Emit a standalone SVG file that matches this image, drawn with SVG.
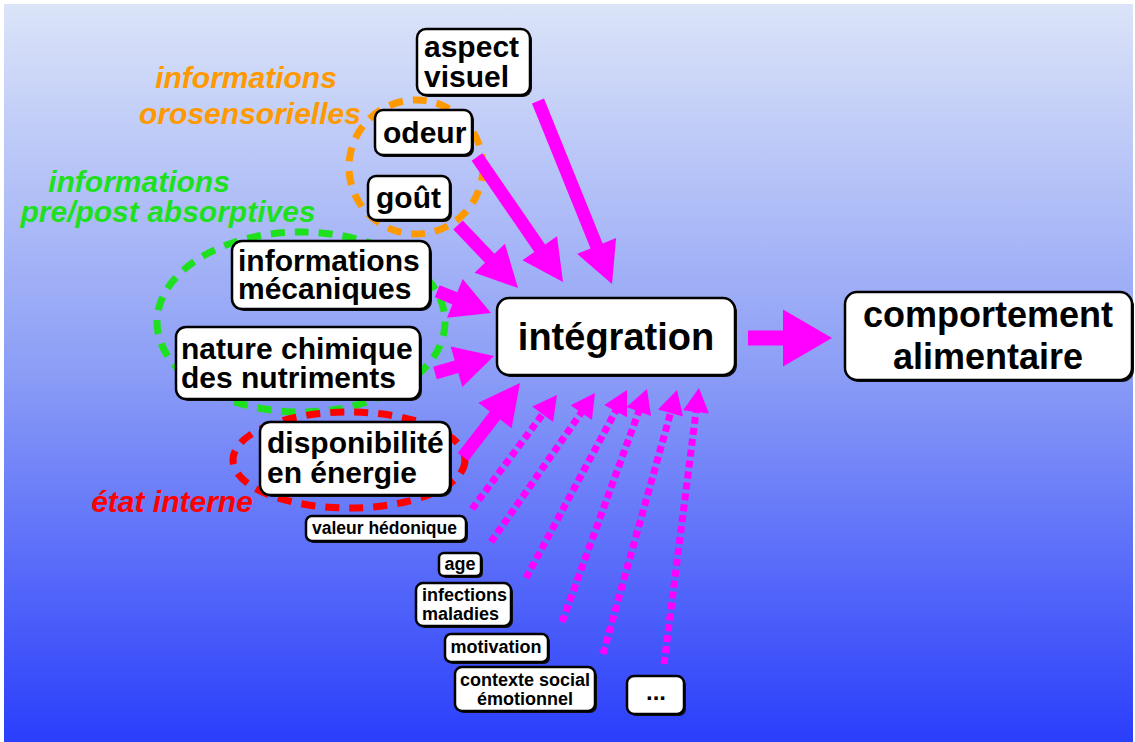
<svg xmlns="http://www.w3.org/2000/svg" width="1135" height="742" viewBox="0 0 1135 742">
<defs>
<linearGradient id="bg" x1="0" y1="0" x2="0" y2="1">
<stop offset="0" stop-color="#dbe4f8"/>
<stop offset="0.5" stop-color="#8b9df6"/>
<stop offset="1" stop-color="#2a3efc"/>
</linearGradient>
<style>
.box{fill:#fff;stroke:#000;stroke-width:2.5}
.sh{fill:#111}
.t{font-family:"Liberation Sans",Arial,sans-serif;font-weight:bold;fill:#000}
.lab{font-family:"Liberation Sans",Arial,sans-serif;font-weight:bold;font-style:italic;font-size:30px;text-anchor:middle}
.ar{fill:#ff00ff}
.dl{stroke:#ff00ff;stroke-width:7;stroke-dasharray:7 4;fill:none}
.el{fill:none;stroke-width:7;stroke-dasharray:14 10}
</style>
</defs>
<rect x="4" y="4" width="1129" height="738" fill="url(#bg)"/>

<g id="groups">
<ellipse class="el" cx="416" cy="167" rx="67" ry="67" stroke="#ff9900"/>
<ellipse class="el" cx="301" cy="322" rx="144" ry="90" stroke="#1ee01e"/>
<ellipse class="el" cx="349" cy="460" rx="116" ry="48" stroke="#ff0000"/>
<text class="lab" fill="#ff9900" x="246" y="88">informations</text>
<text class="lab" fill="#ff9900" x="250" y="124">orosensorielles</text>
<text class="lab" fill="#1ee01e" x="139" y="192">informations</text>
<text class="lab" fill="#1ee01e" x="168" y="222">pre/post absorptives</text>
<text class="lab" fill="#ff0000" x="172" y="512">état interne</text>
</g>

<g id="connectors">
<g transform="translate(612,284) rotate(67.98)"><polygon class="ar" points="-197.4,-6.5 -41,-6.5 -41,-21 0,0 -41,21 -41,6.5 -197.4,6.5"/></g>
<g transform="translate(563,282) rotate(55.47)"><polygon class="ar" points="-151.7,-6.5 -41,-6.5 -41,-21 0,0 -41,21 -41,6.5 -151.7,6.5"/></g>
<g transform="translate(518,288) rotate(46.4)"><polygon class="ar" points="-87,-6.5 -41,-6.5 -41,-21 0,0 -41,21 -41,6.5 -87,6.5"/></g>
<g transform="translate(491,313) rotate(22)"><polygon class="ar" points="-58,-6.5 -39,-6.5 -39,-21 0,0 -39,21 -39,6.5 -58,6.5"/></g>
<g transform="translate(494,356) rotate(-16.07)"><polygon class="ar" points="-61.4,-6.5 -39,-6.5 -39,-21 0,0 -39,21 -39,6.5 -61.4,6.5"/></g>
<g transform="translate(520,383) rotate(-52.4)"><polygon class="ar" points="-93.4,-6.5 -41,-6.5 -41,-21 0,0 -41,21 -41,6.5 -93.4,6.5"/></g>
<g transform="translate(832,338)"><polygon class="ar" points="-84,-7.5 -49,-7.5 -49,-28.5 0,0 -49,28.5 -49,7.5 -84,7.5"/></g>

<g transform="translate(557,395) rotate(-53.3)"><line class="dl" x1="-142.2" y1="0" x2="-22" y2="0"/><polygon class="ar" points="0,0 -24,-13 -24,13"/></g>
<g transform="translate(595,393) rotate(-55.1)"><line class="dl" x1="-181.7" y1="0" x2="-22" y2="0"/><polygon class="ar" points="0,0 -24,-13 -24,13"/></g>
<g transform="translate(627,390) rotate(-61.75)"><line class="dl" x1="-213.4" y1="0" x2="-22" y2="0"/><polygon class="ar" points="0,0 -24,-13 -24,13"/></g>
<g transform="translate(647,389) rotate(-69.96)"><line class="dl" x1="-248" y1="0" x2="-22" y2="0"/><polygon class="ar" points="0,0 -24,-13 -24,13"/></g>
<g transform="translate(677,390) rotate(-74.34)"><line class="dl" x1="-274.2" y1="0" x2="-22" y2="0"/><polygon class="ar" points="0,0 -24,-13 -24,13"/></g>
<g transform="translate(699,388) rotate(-82.77)"><line class="dl" x1="-278.2" y1="0" x2="-22" y2="0"/><polygon class="ar" points="0,0 -24,-13 -24,13"/></g>
</g>

<g id="aspect-visuel">
<rect class="sh" x="419" y="31" width="113" height="66" rx="9"/>
<rect class="box" x="417" y="29" width="113" height="66" rx="9"/>
<text class="t" font-size="30" x="424" y="57">aspect</text>
<text class="t" font-size="30" x="424" y="87">visuel</text>
</g>
<g id="odeur">
<rect class="sh" x="377" y="112" width="97" height="45" rx="8"/>
<rect class="box" x="375" y="110" width="97" height="45" rx="8"/>
<text class="t" font-size="30" x="383" y="143">odeur</text>
</g>
<g id="gout">
<rect class="sh" x="370" y="178" width="82" height="44" rx="8"/>
<rect class="box" x="368" y="176" width="82" height="44" rx="8"/>
<text class="t" font-size="30" x="376" y="208">goût</text>
</g>
<g id="informations-mecaniques">
<rect class="sh" x="234" y="243" width="198" height="68" rx="10"/>
<rect class="box" x="232" y="241" width="198" height="68" rx="10"/>
<text class="t" font-size="30" x="238" y="271">informations</text>
<text class="t" font-size="30" x="238" y="299">mécaniques</text>
</g>
<g id="nature-chimique">
<rect class="sh" x="178" y="329" width="244" height="72" rx="10"/>
<rect class="box" x="176" y="327" width="244" height="72" rx="10"/>
<text class="t" font-size="30" x="181" y="359">nature chimique</text>
<text class="t" font-size="30" x="181" y="388">des nutriments</text>
</g>
<g id="disponibilite">
<rect class="sh" x="262" y="424" width="190" height="73" rx="10"/>
<rect class="box" x="260" y="422" width="190" height="73" rx="10"/>
<text class="t" font-size="30" x="267" y="453">disponibilité</text>
<text class="t" font-size="30" x="267" y="483">en énergie</text>
</g>
<g id="integration">
<rect class="sh" x="499" y="300" width="238" height="77" rx="12"/>
<rect class="box" x="497" y="298" width="238" height="77" rx="12"/>
<text class="t" font-size="38" x="616" y="350" text-anchor="middle">intégration</text>
</g>
<g id="comportement-alimentaire">
<rect class="sh" x="847" y="294" width="287" height="88" rx="12"/>
<rect class="box" x="845" y="292" width="287" height="88" rx="12"/>
<text class="t" font-size="36" x="988" y="327" text-anchor="middle">comportement</text>
<text class="t" font-size="36" x="988" y="369" text-anchor="middle">alimentaire</text>
</g>
<g id="valeur-hedonique">
<rect class="sh" x="308" y="518" width="160" height="25" rx="6"/>
<rect class="box" x="306" y="516" width="160" height="25" rx="6"/>
<text class="t" font-size="17.5" x="312" y="534">valeur hédonique</text>
</g>
<g id="age">
<rect class="sh" x="441" y="555" width="42" height="23" rx="5"/>
<rect class="box" x="439" y="553" width="42" height="23" rx="5"/>
<text class="t" font-size="18" x="460" y="570" text-anchor="middle">age</text>
</g>
<g id="infections-maladies">
<rect class="sh" x="418" y="585" width="95" height="43" rx="7"/>
<rect class="box" x="416" y="583" width="95" height="43" rx="7"/>
<text class="t" font-size="18" x="422" y="601">infections</text>
<text class="t" font-size="18" x="422" y="620">maladies</text>
</g>
<g id="motivation">
<rect class="sh" x="447" y="636" width="103" height="28" rx="6"/>
<rect class="box" x="445" y="634" width="103" height="28" rx="6"/>
<text class="t" font-size="18" x="496" y="653" text-anchor="middle">motivation</text>
</g>
<g id="contexte-social">
<rect class="sh" x="457" y="669" width="140" height="44" rx="7"/>
<rect class="box" x="455" y="667" width="140" height="44" rx="7"/>
<text class="t" font-size="18" x="525" y="686" text-anchor="middle">contexte social</text>
<text class="t" font-size="18" x="525" y="705" text-anchor="middle">émotionnel</text>
</g>
<g id="etc">
<rect class="sh" x="629" y="678" width="57" height="38" rx="7"/>
<rect class="box" x="627" y="676" width="57" height="38" rx="7"/>
<text class="t" font-size="24" x="656" y="700" text-anchor="middle">...</text>
</g>
</svg>
